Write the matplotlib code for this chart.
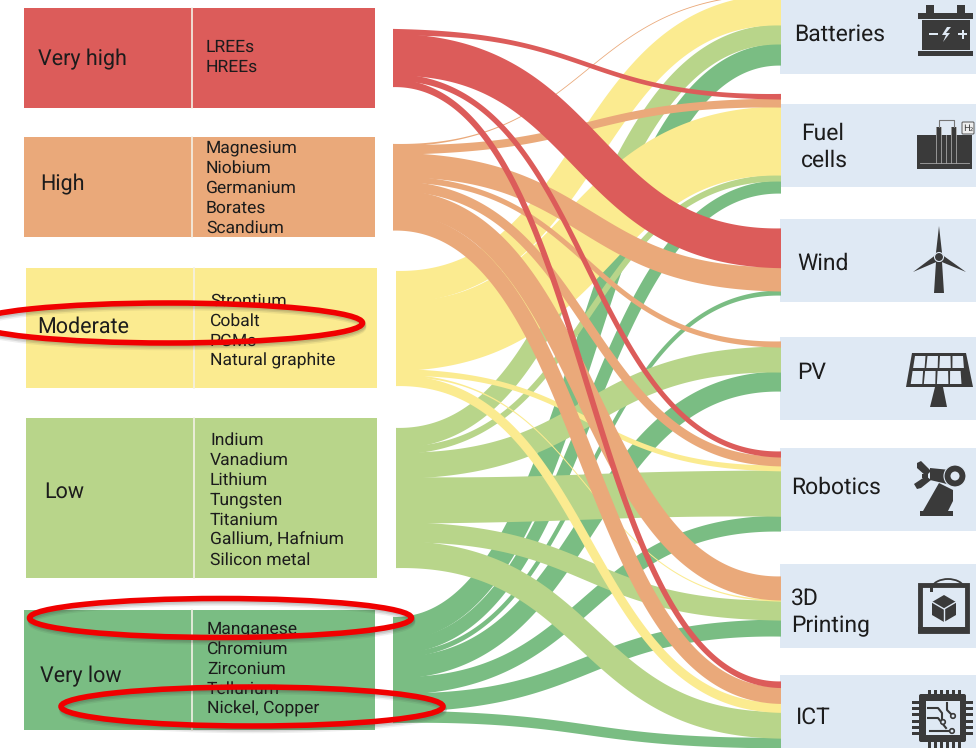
"""Supply-risk levels of raw materials flowing to seven technologies (Sankey)."""
import numpy as np
import matplotlib
matplotlib.use("Agg")
import matplotlib.pyplot as plt
from matplotlib.patches import Circle, Ellipse, Polygon, Rectangle, FancyBboxPatch, Arc

plt.rcParams["font.family"] = ["Roboto", "DejaVu Sans"]
plt.rcParams["text.hinting"] = "none"

levels = ["Very high", "High", "Moderate", "Low", "Very low"]
materials = [
    ["LREEs", "HREEs"],
    ["Magnesium", "Niobium", "Germanium", "Borates", "Scandium"],
    ["Strontium", "Cobalt", "PGMs", "Natural graphite"],
    ["Indium", "Vanadium", "Lithium", "Tungsten", "Titanium", "Gallium, Hafnium", "Silicon metal"],
    ["Manganese", "Chromium", "Zirconium", "Tellurium", "Nickel, Copper"],
]
techs = ["Batteries", "Fuel\ncells", "Wind", "PV", "Robotics", "3D\nPrinting", "ICT"]

# flow sizes, level by technology
very_high = [0, 4.5, 38, 0, 5, 0, 5.5]
high = [0.8, 8, 23, 5, 9, 23, 16]
moderate = [30, 68, 0, 0, 5, 1, 9]
low = [19, 6, 0, 25, 46, 19, 26]
very_low = [21, 12, 4, 19, 15, 16, 10]
flows = np.array([very_high, high, moderate, low, very_low], dtype=float)

COLORS = ["#DC5C5A", "#EAA97A", "#FBEB90", "#B8D58A", "#7ABD83"]
PANEL = "#DFE9F4"
DARK = "#3A3A3A"
TEXT = "#1C1C1C"

# layout, all in reference pixels
BOX = [(24, 8, 108), (24, 137, 237), (26, 268, 388), (26, 418, 578), (24, 610, 730)]
LEVEL_POS = [(38, 59), (40, 184), (37, 327), (44, 492), (40, 676)]
ITEM_X = [206, 206, 210, 210, 207]
ITEM_Y = [47, 148, 301, 440, 629]
LEFT_X = [393, 393, 396, 396, 393]
LEFT_SPAN = [(30, 86), (145, 229.5), (272, 385), (429, 567), (618, 722)]
RIGHT_X = 780
RIGHT_SPAN = [(-6, 65), (94.5, 193), (229, 295), (342, 391), (452, 531), (577, 636), (682, 748)]
PANEL_SPAN = [(-2, 74), (104, 187), (219, 302), (337, 420), (448, 531), (564, 648), (675, 750)]
TECH_POS = [(794, 34), (801, 147), (797, 263), (797, 373), (791, 487), (791, 612), (796, 717)]
RINGS = [(168.5, 323, 194, 20), (220.5, 618, 191, 19.5), (252, 706.5, 191, 19.5)]

fig = plt.figure(figsize=(9.76, 7.48), dpi=100)
ax = fig.add_axes([0, 0, 1, 1])
ax.set_xlim(0, 976)
ax.set_ylim(748, 0)
ax.axis("off")


def ribbon(x0, y0, w0, x1, y1, w1, color, k=0.52):
    # cubic with flat ends, offset along the normal; a little padding at the ends
    # lets neighbours merge into the node before they split
    t = np.linspace(0, 1, 240)[:, None]
    p0, p1 = np.array([x0, y0]), np.array([x0 + k * (x1 - x0), y0])
    p2, p3 = np.array([x1 - k * (x1 - x0), y1]), np.array([x1, y1])
    pts = (1 - t) ** 3 * p0 + 3 * (1 - t) ** 2 * t * p1 + 3 * (1 - t) * t ** 2 * p2 + t ** 3 * p3
    d = 3 * (1 - t) ** 2 * (p1 - p0) + 6 * (1 - t) * t * (p2 - p1) + 3 * t ** 2 * (p3 - p2)
    n = np.column_stack([-d[:, 1], d[:, 0]]) / np.linalg.norm(d, axis=1, keepdims=True)
    pad = 2.2 * np.exp(-t / 0.09) + 1.2 * np.exp(-(1 - t) / 0.06)
    w = (w0 + (w1 - w0) * t + pad) / 2
    outline = np.vstack([pts + n * w, (pts - n * w)[::-1]])
    ax.add_patch(Polygon(outline, closed=True, fc=color, ec="none", zorder=2))


# left table
for i, level in enumerate(levels):
    x, y0, y1 = BOX[i]
    ax.add_patch(Rectangle((x, y0), 351, y1 - y0, fc=COLORS[i], ec="none"))
    ax.plot([x + 168, x + 168], [y0, y1], color="#F4F1E6", lw=1.2)
    ax.text(LEVEL_POS[i][0], LEVEL_POS[i][1], level, fontsize=15.5, color=TEXT, va="center")
    for j, m in enumerate(materials[i]):
        ax.text(ITEM_X[i], ITEM_Y[i] + j * 20, m, fontsize=12.6, color=TEXT, va="center", zorder=3)

# right panels
for (y0, y1) in PANEL_SPAN:
    ax.add_patch(Rectangle((RIGHT_X, y0), 200, y1 - y0, fc=PANEL, ec="none"))

# flows, stacked at both ends in table order
left_scale = [(b - a) / flows[i].sum() for i, (a, b) in enumerate(LEFT_SPAN)]
right_scale = [(b - a) / flows[:, j].sum() for j, (a, b) in enumerate(RIGHT_SPAN)]
for i in range(4, -1, -1):
    for j in range(len(techs)):
        v = flows[i, j]
        if v == 0:
            continue
        w0 = v * left_scale[i]
        w1 = v * right_scale[j]
        y0 = LEFT_SPAN[i][0] + flows[i, :j].sum() * left_scale[i] + w0 / 2
        y1 = RIGHT_SPAN[j][0] + flows[:i, j].sum() * right_scale[j] + w1 / 2
        ribbon(LEFT_X[i], y0, w0, RIGHT_X + 1, y1, w1, COLORS[i])

for j, tech in enumerate(techs):
    ax.text(TECH_POS[j][0], TECH_POS[j][1], tech, fontsize=16.5, color=TEXT, va="center",
            linespacing=1.32, zorder=5)


# icons
def poly(pts, color=DARK, z=5):
    ax.add_patch(Polygon(pts, closed=True, fc=color, ec="none", zorder=z))


def rect(x, y, w, h, color=DARK, z=5):
    ax.add_patch(Rectangle((x, y), w, h, fc=color, ec="none", zorder=z))


# battery
rect(926, 5, 8, 8)
rect(957, 5, 8, 8)
rect(918, 13, 55, 5.5)
rect(922, 19.5, 48, 30)
rect(918, 50.5, 55, 5.5)
rect(929, 33, 9, 2, PANEL, 6)
rect(958, 33, 9, 2, PANEL, 6)
rect(961.5, 29.5, 2, 9, PANEL, 6)
poly([(947, 27), (942, 35), (946, 35), (943, 42), (950, 33), (946, 33), (951, 27)], PANEL, 6)

# fuel cell
rect(917, 135, 55, 34)
rect(936, 127, 5, 37)
rect(951, 127, 5, 37)
for lx in (936, 941, 946, 951, 956):
    ax.plot([lx, lx], [127 if lx != 946 else 135, 163], color="#A5A5A5", lw=0.6, zorder=6)
ax.plot([920, 946, 969], [163, 163, 163], color="#A5A5A5", lw=0.6, zorder=6)
ax.plot([938.5, 938.5, 953.5, 953.5], [127, 120, 120, 127], color="#777777", lw=0.8, zorder=6)
ax.add_patch(FancyBboxPatch((963, 123), 10, 10, boxstyle="round,pad=1", fc="#EEEEEE", ec="#555555",
                            lw=0.7, zorder=7))
ax.text(968, 128, "H₂", fontsize=6.5, ha="center", va="center", color=DARK, zorder=8,
        family=["DejaVu Sans"])

# wind turbine
cx, cy = 939, 257
poly([(936, 262), (942, 262), (944, 293), (934, 293)])
poly([(cx - 3.5, cy), (cx, 226), (cx + 3.5, cy)])
poly([(cx - 2, cy - 3), (913, 272), (cx + 2, cy + 3)])
poly([(cx + 2, cy - 3), (966, 272), (cx - 2, cy + 3)])
ax.add_patch(Circle((cx, cy), 4.5, fc=DARK, ec=PANEL, lw=0.8, zorder=6))

# solar panel
poly([(912, 353), (966, 353), (973, 387), (906, 387)])
for r0, r1 in ((356, 368), (371, 384)):
    for c in range(4):
        tl = 915 + c * 12.5 - (r0 - 356) * 0.16
        tr = tl + 10.5
        poly([(tl, r0), (tr, r0), (tr + (c - 1.5) * 0.6, r1), (tl + (c - 1.5) * 0.6 - 1, r1)], PANEL, 6)
poly([(935, 387), (943, 387), (947, 407), (930, 407)])

# robot arm
rect(920, 511, 33, 5)
poly([(923, 511), (939, 483), (953, 490), (953, 501), (948, 511)])
poly([(930, 468), (950, 470), (950, 485), (943, 483), (930, 480)])
ax.add_patch(Circle((955, 476), 11, fc=DARK, ec=PANEL, lw=0.8, zorder=6))
ax.add_patch(Circle((955, 476), 4.5, fc=PANEL, ec="none", zorder=7))
poly([(917, 463), (921, 461), (931, 471), (926, 476), (917, 468)])
poly([(917, 489), (921, 488), (931, 480), (926, 476), (914, 484)])
rect(922, 474, 6, 4)

# 3D printer
ax.add_patch(Rectangle((920, 585), 47, 46, fc=PANEL, ec=DARK, lw=3.5, zorder=5))
rect(918, 627, 51, 6)
ax.add_patch(Arc((948, 590), 34, 22, theta1=190, theta2=350, color=DARK, lw=1.3, zorder=6))
rect(930, 586, 3, 6)
poly([(944, 595), (956, 602), (956, 615), (944, 622), (932, 615), (932, 602)])
ax.plot([932, 944, 956], [602, 609, 602], color=PANEL, lw=1, zorder=6)
ax.plot([944, 944], [609, 622], color=PANEL, lw=1, zorder=6)

# chip
ax.add_patch(FancyBboxPatch((921, 696), 43, 44, boxstyle="round,pad=2", fc=DARK, ec="none", zorder=5))
ax.add_patch(Rectangle((926, 701), 34, 34, fc=PANEL, ec="none", zorder=6))
for k in range(6):
    rect(928 + k * 6, 690, 3, 6)
    rect(928 + k * 6, 742, 3, 6)
    rect(912, 701 + k * 6.2, 7, 3)
    rect(966, 701 + k * 6.2, 7, 3)
ax.plot([928, 938, 942, 942], [708, 708, 713, 722], color=DARK, lw=1.5, zorder=7)
ax.plot([928, 938, 946], [718, 718, 728], color=DARK, lw=1.5, zorder=7)
ax.plot([947, 947, 953], [703, 710, 716], color=DARK, lw=1.5, zorder=7)
ax.plot([930, 950], [731, 731], color=DARK, lw=1.5, zorder=7)
for px, py in ((953, 716), (952, 731), (943, 722)):
    ax.add_patch(Circle((px, py), 2.3, fc=PANEL, ec=DARK, lw=1.2, zorder=8))

# hand-drawn highlight rings
for ex, ey, a, b in RINGS:
    for off, alpha in ((1.5, 0.12), (3, 0.12), (4.5, 0.08)):
        ax.add_patch(Ellipse((ex + 1, ey + off), 2 * a, 2 * b, fc="none", ec="#333333", lw=4, alpha=alpha, zorder=8))
    ax.add_patch(Ellipse((ex, ey), 2 * a, 2 * b, fc="none", ec="#F00000", lw=4, zorder=9))

fig.savefig("out.png", dpi=100)
